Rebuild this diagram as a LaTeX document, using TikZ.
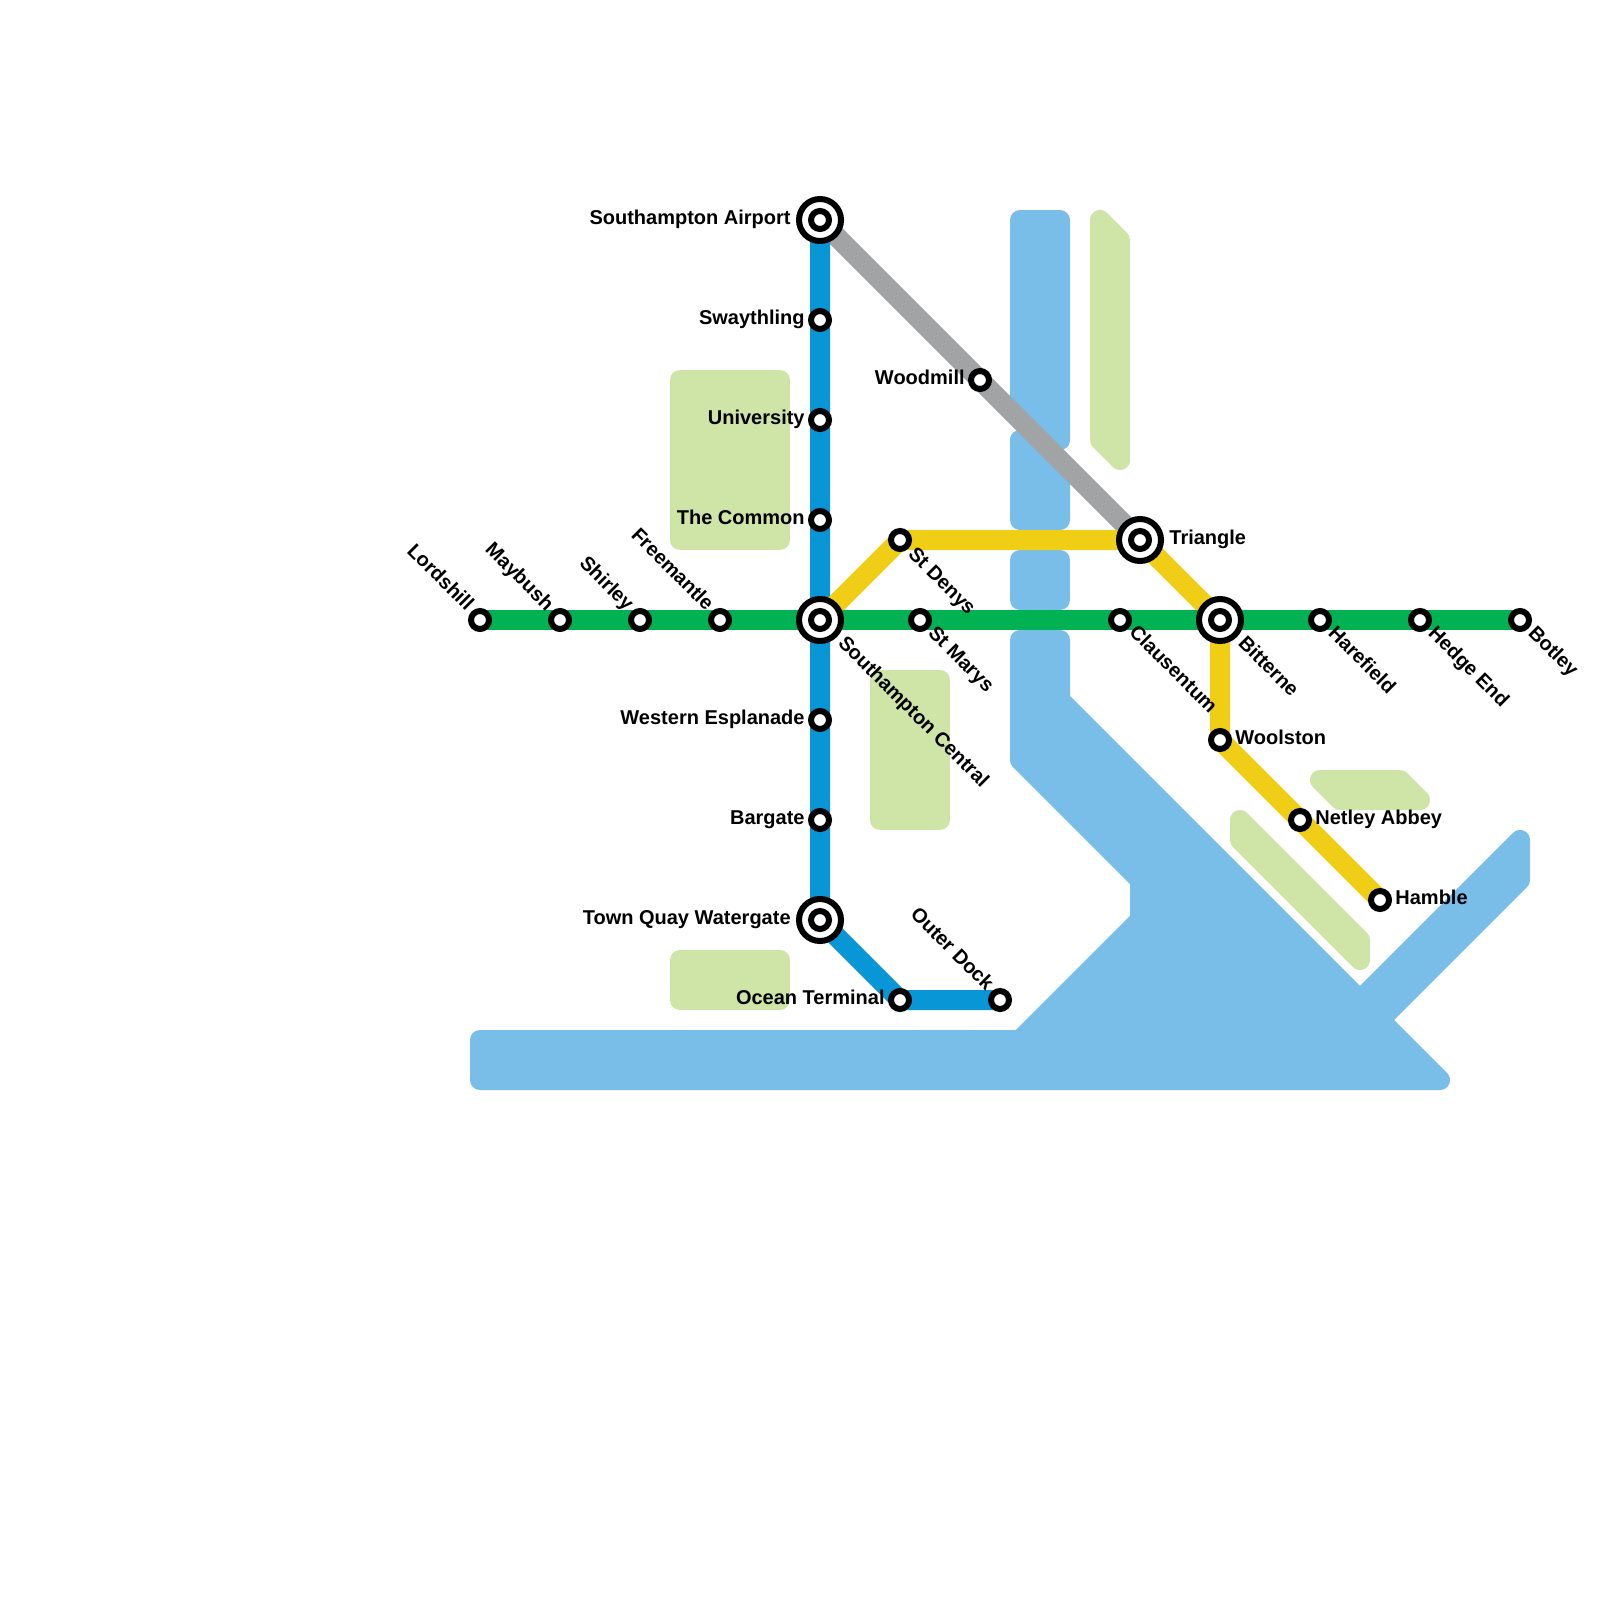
\documentclass[tikz,border=0pt]{standalone}
\usepackage{fontspec}
\setmainfont{Liberation Sans}
\pgfdeclarelayer{water}
\pgfdeclarelayer{lines}
\pgfsetlayers{water,lines,main}
\definecolor{cwater}{HTML}{79BDE9}
\definecolor{cpark}{HTML}{CFE4A7}
\definecolor{cgreen}{HTML}{00B251}
\definecolor{cblue}{HTML}{0896D7}
\definecolor{cyellow}{HTML}{F0CE15}
\definecolor{cgray}{HTML}{A1A3A4}
\tikzset{
  stn/.style={circle,draw=black,fill=white,line width=3pt,minimum size=9pt,inner sep=0pt,outer sep=0pt},
  hub/.style={circle,draw=black,fill=white,line width=3pt,minimum size=21pt,inner sep=0pt,outer sep=0pt},
  metro/.style={line width=10pt},
  wat/.style={fill=cwater,draw=cwater,line width=10pt,line join=round},
  park/.style={fill=cpark,draw=cpark,line width=10pt,line join=round},
  lbl/.style={font=\fontsize{10}{12}\selectfont\bfseries,inner sep=0pt,text=black},
  lbe/.style={lbl,anchor=base east},
  lbw/.style={lbl,anchor=base west},
  lbd/.style={lbl,anchor=base west,rotate=-45},
  lbu/.style={lbl,anchor=base east,rotate=-45}
}
\begin{document}
\begin{tikzpicture}[x=0.5pt,y=-0.5pt]
\useasboundingbox (0,0) rectangle (1600,1600);
% stations
\foreach \n/\x/\y in {lordshill/480/620,maybush/560/620,shirley/640/620,freemantle/720/620,
  swaythling/820/320,university/820/420,common/820/520,western/820/720,bargate/820/820,
  ocean/900/1000,outer/1000/1000,woodmill/980/380,stdenys/900/540,stmarys/920/620,
  clausentum/1120/620,harefield/1320/620,hedge/1420/620,botley/1520/620,
  woolston/1220/740,netley/1300/820,hamble/1380/900}
  {\node[stn] (\n) at (\x,\y) {};}
\foreach \n/\x/\y in {airport/820/220,central/820/620,quay/820/920,triangle/1140/540,bitterne/1220/620}
  {\node[hub] (\n) at (\x,\y) {}; \node[stn] (\n-in) at (\x,\y) {};}
% water and parks
\begin{pgfonlayer}{water}
\fill[white] (0,0) rectangle (1600,1600);
\filldraw[wat] (1020,220) -- (1060,220) -- (1060,440) -- (1020,400) -- cycle;
\filldraw[wat] (1020,440) -- (1060,480) -- (1060,520) -- (1020,520) -- cycle;
\filldraw[wat] (1020,560) rectangle (1060,600);
\filldraw[wat] (1020,640) -- (1060,640) -- (1060,700) -- (1360,1000) -- (1520,840) -- (1520,880) -- (1380,1020) -- (1440,1080) -- (480,1080) -- (480,1040) -- (1020,1040) -- (1140,920) -- (1140,880) -- (1020,760) -- cycle;
\filldraw[park] (680,380) rectangle (780,540);
\filldraw[park] (880,680) rectangle (940,820);
\filldraw[park] (680,960) rectangle (780,1000);
\filldraw[park] (1100,220) -- (1120,240) -- (1120,460) -- (1100,440) -- cycle;
\filldraw[park] (1320,780) -- (1400,780) -- (1420,800) -- (1340,800) -- cycle;
\filldraw[park] (1240,820) -- (1360,940) -- (1360,960) -- (1240,840) -- cycle;
\end{pgfonlayer}
% lines
\begin{pgfonlayer}{lines}
\draw[metro,cgray] (airport.center) -- (triangle.center);
\draw[metro,cblue] (airport.center) -- (quay.center) -- (ocean.center) -- (outer.center);
\draw[metro,cyellow] (central.center) -- (stdenys.center) -- (triangle.center) -- (bitterne.center) -- (woolston.center) -- (hamble.center);
\draw[metro,cgreen] (lordshill.center) -- (botley.center);
\end{pgfonlayer}
% labels
\node[lbe] (l-airport) at (791,224) {Southampton Airport};
\node[lbe] (l-swaythling) at (805,324) {Swaythling};
\node[lbe] (l-university) at (805,424) {University};
\node[lbe] (l-common) at (805,524) {The Common};
\node[lbe] (l-western) at (805,724) {Western Esplanade};
\node[lbe] (l-bargate) at (805,824) {Bargate};
\node[lbe] (l-quay) at (791,924) {Town Quay Watergate};
\node[lbe] (l-ocean) at (885,1004) {Ocean Terminal};
\node[lbe] (l-woodmill) at (965,384) {Woodmill};
\node[lbw] (l-triangle) at (1169,544) {Triangle};
\node[lbw] (l-woolston) at (1235,744) {Woolston};
\node[lbw] (l-netley) at (1315,824) {Netley Abbey};
\node[lbw] (l-hamble) at (1395,904) {Hamble};
\node[lbu] (l-lordshill) at (466,612) {Lordshill};
\node[lbu] (l-maybush) at (546,612) {Maybush};
\node[lbu] (l-shirley) at (626,612) {Shirley};
\node[lbu] (l-freemantle) at (706,612) {Freemantle};
\node[lbu] (l-outer) at (986,992) {Outer Dock};
\node[lbd] (l-stdenys) at (907,555) {St Denys};
\node[lbd] (l-stmarys) at (927,634) {St Marys};
\node[lbd] (l-central) at (837,644) {Southampton Central};
\node[lbd] (l-clausentum) at (1128,633) {Clausentum};
\node[lbd] (l-bitterne) at (1237,644) {Bitterne};
\node[lbd] (l-harefield) at (1327,634) {Harefield};
\node[lbd] (l-hedge) at (1427,634) {Hedge End};
\node[lbd] (l-botley) at (1527,634) {Botley};
\end{tikzpicture}
\end{document}
